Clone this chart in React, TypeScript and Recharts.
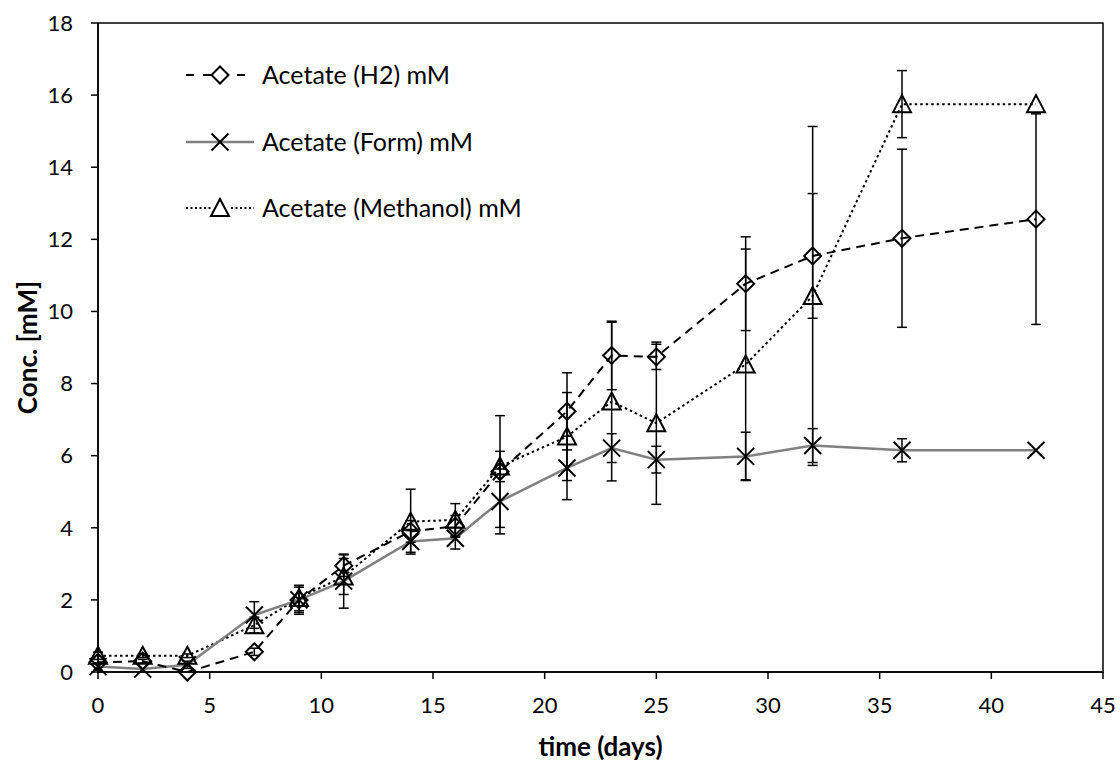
import React from "react";
import { LineChart, Line, XAxis, YAxis, ErrorBar, ReferenceArea } from "recharts";

const days = [0, 2, 4, 7, 9, 11, 14, 16, 18, 21, 23, 25, 29, 32, 36, 42];

const h2 = [0.27, 0.3, 0.0, 0.56, 2.0, 2.95, 3.9, 4.04, 5.56, 7.23, 8.78, 8.74, 10.77, 11.54, 12.03, 12.56];
const h2Err = [0, 0.05, 0, 0.1, 0.35, 0.3, 0.3, 0.3, 1.55, 1.07, 0.95, 0.35, 1.3, 1.73, 2.47, 2.92];

const form = [0.15, 0.08, 0.2, 1.58, 2.0, 2.52, 3.62, 3.71, 4.73, 5.66, 6.21, 5.89, 5.98, 6.28, 6.15, 6.15];
const formErr = [0.1, 0, 0.1, 0.37, 0.4, 0.75, 0.3, 0.3, 0.9, 0.88, 0.4, 0.37, 0.67, 0.47, 0.32, 0];

const methanol = [0.45, 0.45, 0.45, 1.3, 2.05, 2.65, 4.17, 4.22, 5.7, 6.53, 7.5, 6.9, 8.53, 10.43, 15.75, 15.75];
const methanolErr = [0.1, 0.05, 0.05, 0.22, 0.35, 0.5, 0.9, 0.45, 0.42, 1.22, 2.2, 2.25, 3.2, 4.7, 0.93, 0];

const xTicks = [0, 5, 10, 15, 20, 25, 30, 35, 40, 45];
const yTicks = [0, 2, 4, 6, 8, 10, 12, 14, 16, 18];

const FONT = "Lato, 'Open Sans', sans-serif";

const data = days.map((d, i) => ({
  day: d,
  h2: h2[i],
  h2Err: h2Err[i],
  form: form[i],
  formErr: formErr[i],
  methanol: methanol[i],
  methanolErr: methanolErr[i],
}));

type MarkerProps = { cx?: number; cy?: number; index?: number };

function Diamond({ cx = 0, cy = 0 }: MarkerProps) {
  const r = 8.5;
  return (
    <path
      d={`M${cx},${cy - r}L${cx + r},${cy}L${cx},${cy + r}L${cx - r},${cy}Z`}
      fill="none"
      stroke="#000"
      strokeWidth={2}
    />
  );
}

function Cross({ cx = 0, cy = 0 }: MarkerProps) {
  const r = 8.5;
  return (
    <path
      d={`M${cx - r},${cy - r}L${cx + r},${cy + r}M${cx - r},${cy + r}L${cx + r},${cy - r}`}
      fill="none"
      stroke="#000"
      strokeWidth={2}
    />
  );
}

function Triangle({ cx = 0, cy = 0 }: MarkerProps) {
  return (
    <path
      d={`M${cx},${cy - 9}L${cx + 9},${cy + 8}L${cx - 9},${cy + 8}Z`}
      fill="none"
      stroke="#000"
      strokeWidth={2}
    />
  );
}

const series = [
  { key: "h2", name: "Acetate (H2) mM", stroke: "#000", dash: "9 6", Marker: Diamond },
  { key: "form", name: "Acetate (Form) mM", stroke: "#808080", dash: undefined, Marker: Cross },
  { key: "methanol", name: "Acetate (Methanol) mM", stroke: "#000", dash: "2.5 3", Marker: Triangle },
];

function ChartLegend() {
  return (
    <div style={{ position: "absolute", left: 0, top: 0, width: 1120, height: 764, pointerEvents: "none" }}>
      {series.map((s, i) => {
        const cy = 75 + i * 66.5;
        return (
          <div key={s.key}>
            <svg
              width={80}
              height={24}
              style={{ position: "absolute", left: 180, top: cy - 12 }}
            >
              <line
                x1={6}
                y1={12}
                x2={74}
                y2={12}
                stroke={s.stroke}
                strokeWidth={s.key === "form" ? 2.5 : 2}
                strokeDasharray={s.key === "h2" ? "8 9" : s.key === "methanol" ? "2 2.5" : undefined}
              />
              <rect x={31} y={3} width={18} height={18} fill="#fff" opacity={s.key === "form" ? 0 : 1} />
              <s.Marker cx={40} cy={12} />
            </svg>
            <span
              style={{
                position: "absolute",
                left: 262,
                top: cy - 16,
                fontFamily: FONT,
                fontSize: 25,
                lineHeight: "31px",
                color: "#000",
                whiteSpace: "nowrap",
              }}
            >
              {s.name}
            </span>
          </div>
        );
      })}
    </div>
  );
}

export default function App() {
  const tickStyle = { fill: "#000", fontSize: 22, fontFamily: FONT };
  return (
    <div style={{ position: "absolute", left: 0, top: 0, width: 1120, height: 764, background: "#fff" }}>
      <LineChart width={1120} height={764} data={data} margin={{ top: 23, right: 17, bottom: 0, left: 0 }}>
        <ReferenceArea x1={0} x2={45} y1={0} y2={18} fill="none" stroke="#000" strokeWidth={1.5} />
        <XAxis
          dataKey="day"
          type="number"
          domain={[0, 45]}
          ticks={xTicks}
          height={92}
          tick={tickStyle}
          tickSize={7}
          tickMargin={18}
          axisLine={{ stroke: "#000", strokeWidth: 1.5 }}
          tickLine={{ stroke: "#000", strokeWidth: 1.5 }}
          label={{
            value: "time (days)",
            position: "insideBottom",
            offset: 8,
            fill: "#000",
            fontSize: 26,
            fontWeight: "bold",
            fontFamily: FONT,
          }}
        />
        <YAxis
          type="number"
          domain={[0, 18]}
          ticks={yTicks}
          width={98}
          tick={tickStyle}
          tickSize={7}
          tickMargin={18}
          axisLine={{ stroke: "#000", strokeWidth: 1.5 }}
          tickLine={{ stroke: "#000", strokeWidth: 1.5 }}
          label={{
            content: (props: any) => {
              const vb = props.viewBox || { x: 0, y: 23, width: 98, height: 649 };
              const x = vb.x + 27;
              const y = vb.y + vb.height / 2;
              return (
                <text
                  x={x}
                  y={y}
                  transform={`rotate(-90 ${x} ${y})`}
                  textAnchor="middle"
                  dominantBaseline="central"
                  fill="#000"
                  fontSize={26}
                  fontWeight="bold"
                  fontFamily={FONT}
                >
                  Conc. [mM]
                </text>
              );
            },
          }}
        />
        {[...series].reverse().map((s) => (
          <Line
            key={s.key}
            dataKey={s.key}
            type="linear"
            stroke={s.stroke}
            strokeWidth={s.key === "form" ? 2.5 : 2}
            strokeDasharray={s.dash}
            isAnimationActive={false}
            activeDot={false}
            dot={(p: any) => <s.Marker key={`${s.key}-${p.index}`} cx={p.cx} cy={p.cy} />}
          >
            <ErrorBar dataKey={`${s.key}Err`} direction="y" width={5} stroke="#000" strokeWidth={1.5} />
          </Line>
        ))}
      </LineChart>
      <ChartLegend />
    </div>
  );
}
